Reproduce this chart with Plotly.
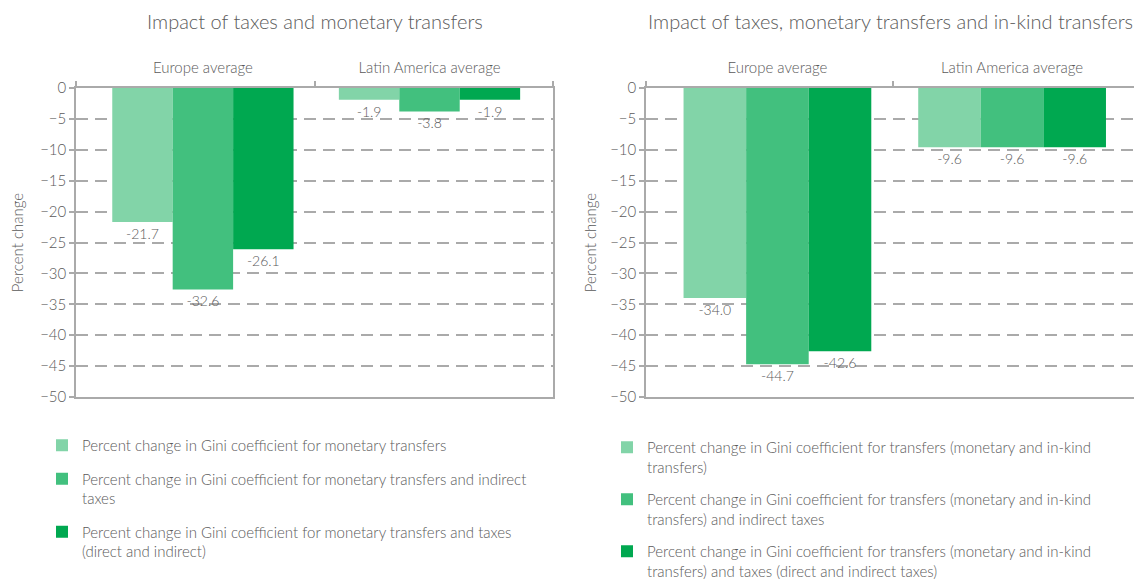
import plotly.graph_objects as go

categories = ["Europe average", "Latin America average"]

left_title = "Impact of taxes and monetary transfers"
right_title = "Impact of taxes, monetary transfers and in-kind transfers"

left_names = [
    "Percent change in Gini coefficient for monetary transfers",
    "Percent change in Gini coefficient for monetary transfers and indirect<br>taxes",
    "Percent change in Gini coefficient for monetary transfers and taxes<br>(direct and indirect)",
]
left_values = [
    [-21.7, -1.9],
    [-32.6, -3.8],
    [-26.1, -1.9],
]

right_names = [
    "Percent change in Gini coefficient for transfers (monetary and in-kind<br>transfers)",
    "Percent change in Gini coefficient for transfers (monetary and in-kind<br>transfers) and indirect taxes",
    "Percent change in Gini coefficient for transfers (monetary and in-kind<br>transfers) and taxes (direct and indirect taxes)",
]
right_values = [
    [-34.0, -9.6],
    [-44.7, -9.6],
    [-42.6, -9.6],
]

colors = ["#82D4A8", "#42C07E", "#00A850"]
y_ticks = [0, -5, -10, -15, -20, -25, -30, -35, -40, -45, -50]

FONT = "Lato"
TXT = "#5a5a5a"
LINE = "#aaaaaa"

# page has an 8px body margin; figure is sized to fit the 1142x580 window
OFF = 8
W, H = 1142 - OFF, 580 - OFF


def px(xp):
    return (xp - OFF) / W


def py(yp):
    return 1 - (yp - OFF) / H


def f(size):
    return dict(family=FONT, size=size, color=TXT, weight=300)


fig = go.Figure()

for i in range(3):
    fig.add_trace(go.Bar(
        x=categories, y=left_values[i], name=left_names[i],
        marker=dict(color=colors[i], line=dict(width=0)),
        texttemplate="%{y:.1f}", textposition="outside",
        textfont=f(14),
        cliponaxis=False, xaxis="x", yaxis="y", legend="legend",
        legendgroup="L%d" % i,
    ))
for i in range(3):
    fig.add_trace(go.Bar(
        x=categories, y=right_values[i], name=right_names[i],
        marker=dict(color=colors[i], line=dict(width=0)),
        texttemplate="%{y:.1f}", textposition="outside",
        textfont=f(14),
        cliponaxis=False, xaxis="x2", yaxis="y2", legend="legend2",
        legendgroup="R%d" % i,
    ))

# empty helper traces so the boundary-tick overlay axes are rendered
fig.add_trace(go.Scatter(x=[], y=[], xaxis="x3", yaxis="y", showlegend=False,
                         hoverinfo="skip"))
fig.add_trace(go.Scatter(x=[], y=[], xaxis="x4", yaxis="y2", showlegend=False,
                         hoverinfo="skip"))

ydom = [py(397), py(88)]

xcommon = dict(
    side="top", type="category", range=[-0.56, 1.545],
    ticks="outside", ticklen=7, tickcolor="rgba(0,0,0,0)",
    showline=True, linecolor=LINE, linewidth=1.5, mirror=True,
    showgrid=False, zeroline=False, automargin=False,
    tickfont=f(15),
    fixedrange=True,
)
# overlay axes carrying only the boundary tick marks
xtick_common = dict(
    side="top", type="linear", range=[0, 1], tickmode="array",
    tickvals=[0, 0.5, 1],
    ticks="outside", ticklen=6, tickwidth=1.5, tickcolor=LINE,
    showticklabels=False, showline=False, showgrid=False, zeroline=False,
    automargin=False, fixedrange=True,
)
ycommon = dict(
    range=[-50, 0], tickvals=y_ticks, ticks="outside", ticklen=5,
    tickwidth=1.5, tickcolor=LINE,
    showline=True, linecolor=LINE, linewidth=1.5, mirror=True,
    showgrid=True, gridcolor=LINE, gridwidth=1.5, griddash="12px,7px",
    zeroline=False, automargin=False,
    tickfont=f(15),
    fixedrange=True,
)

legend_common = dict(
    xanchor="left", yanchor="top",
    font=f(15), valign="top",
    traceorder="grouped", bgcolor="rgba(0,0,0,0)",
)

fig.update_layout(
    width=W, height=H,
    margin=dict(l=0, r=0, t=0, b=0, autoexpand=False),
    paper_bgcolor="white", plot_bgcolor="white",
    barmode="group", bargap=0.2, bargroupgap=0,
    font=dict(family=FONT, color=TXT),
    xaxis=dict(domain=[px(76), px(553)], anchor="y", **xcommon),
    yaxis=dict(domain=ydom, anchor="x",
               title=dict(text="Percent change", font=f(15), standoff=22),
               **ycommon),
    xaxis2=dict(domain=[px(646), px(1140)], anchor="y2", **xcommon),
    yaxis2=dict(domain=ydom, anchor="x2",
                title=dict(text="Percent change", font=f(15), standoff=10),
                **ycommon),
    xaxis3=dict(overlaying="x", anchor="y", **xtick_common),
    xaxis4=dict(overlaying="x2", anchor="y2", **xtick_common),
    legend=dict(x=px(42), y=py(429), tracegroupgap=11, **legend_common),
    legend2=dict(x=px(607), y=py(431), tracegroupgap=10, **legend_common),
    showlegend=True,
    annotations=[
        dict(text=left_title, x=px(315), y=1, xref="paper", yref="paper",
             xanchor="center", yanchor="top", showarrow=False, font=f(20),
             borderpad=0),
        dict(text=right_title, x=px(890), y=1, xref="paper", yref="paper",
             xanchor="center", yanchor="top", showarrow=False, font=f(20),
             borderpad=0),
    ],
)

fig.write_html("out.html")
